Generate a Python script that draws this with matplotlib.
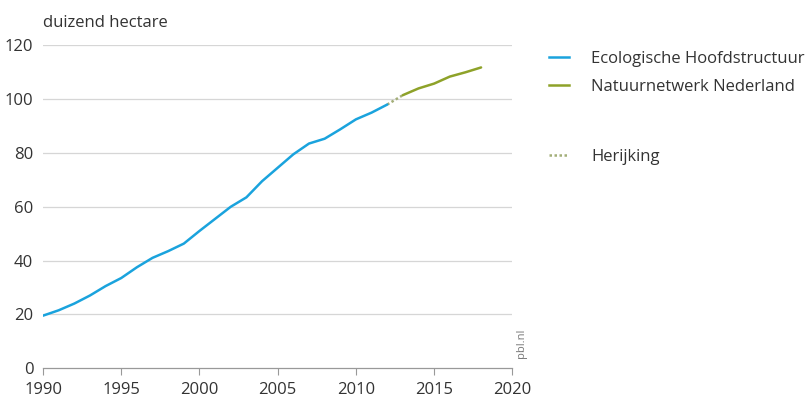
import matplotlib.pyplot as plt
from matplotlib.lines import Line2D

plt.rcParams['font.family'] = ['Open Sans', 'DejaVu Sans']

# Ecologische Hoofdstructuur (tot 2012)
jaren_ehs = list(range(1990, 2013))
ehs = [19.5, 21.5, 24.0, 27.0, 30.5, 33.5, 37.5, 41.0, 43.5, 46.3, 51.0, 55.5,
       60.0, 63.5, 69.5, 74.5, 79.5, 83.5, 85.3, 88.8, 92.5, 95.0, 98.0]

# Natuurnetwerk Nederland (vanaf 2013)
jaren_nnn = list(range(2013, 2019))
nnn = [101.5, 104.0, 105.8, 108.4, 110.0, 111.8]

# herijking: overgang tussen beide reeksen
jaren_her = [2012, 2013]
herijking = [98.0, 101.5]

xticks = [1990, 1995, 2000, 2005, 2010, 2015, 2020]
yticks = [0, 20, 40, 60, 80, 100, 120]

blauw = '#1aa3dd'
groen = '#8ea229'
tekst = '#333333'
fs = 12

fig = plt.figure(figsize=(8.12, 4.09), dpi=100)
ax = fig.add_axes([0.053, 0.100, 0.578, 0.789])

for y in yticks[1:]:
    ax.axhline(y, color='#d6d6d6', lw=0.9, zorder=0)

ax.plot(jaren_her, herijking, color='#a3ae78', lw=1.8, ls=(0, (1, 1)), zorder=2)
ax.plot(jaren_ehs, ehs, color=blauw, lw=1.8, solid_capstyle='round', zorder=3)
ax.plot(jaren_nnn, nnn, color=groen, lw=1.8, solid_capstyle='round', zorder=3)

ax.set_xlim(1990, 2020)
ax.set_ylim(0, 120)
ax.set_xticks(xticks)
ax.set_yticks(yticks)
ax.tick_params(axis='x', length=5, color='#999999', labelsize=fs, labelcolor=tekst, pad=5)
ax.tick_params(axis='y', length=0, labelsize=fs, labelcolor=tekst, pad=7)
for s in ['left', 'right', 'top']:
    ax.spines[s].set_visible(False)
ax.spines['bottom'].set_color('#999999')
ax.spines['bottom'].set_linewidth(0.9)

ax.text(0, 1.045, 'duizend hectare', transform=ax.transAxes, fontsize=fs,
        color=tekst, ha='left', va='bottom')
ax.text(1.02, 0.03, 'pbl.nl', transform=ax.transAxes, rotation=90, fontsize=8,
        color='#777777', ha='center', va='bottom')

handles1 = [Line2D([], [], color=blauw, lw=1.8), Line2D([], [], color=groen, lw=1.8)]
fig.legend(handles1, ['Ecologische Hoofdstructuur', 'Natuurnetwerk Nederland'],
           loc='upper left', bbox_to_anchor=(0.658, 0.912), frameon=False,
           fontsize=fs, handlelength=1.2, handletextpad=1.3, labelspacing=0.7,
           labelcolor=tekst)
handles2 = [Line2D([], [], color='#a3ae78', lw=1.8, ls=(0, (1, 1)))]
fig.legend(handles2, ['Herijking'], loc='upper left', bbox_to_anchor=(0.658, 0.672),
           frameon=False, fontsize=fs, handlelength=1.2, handletextpad=1.3,
           labelcolor=tekst)

fig.savefig('out.png', dpi=100)
